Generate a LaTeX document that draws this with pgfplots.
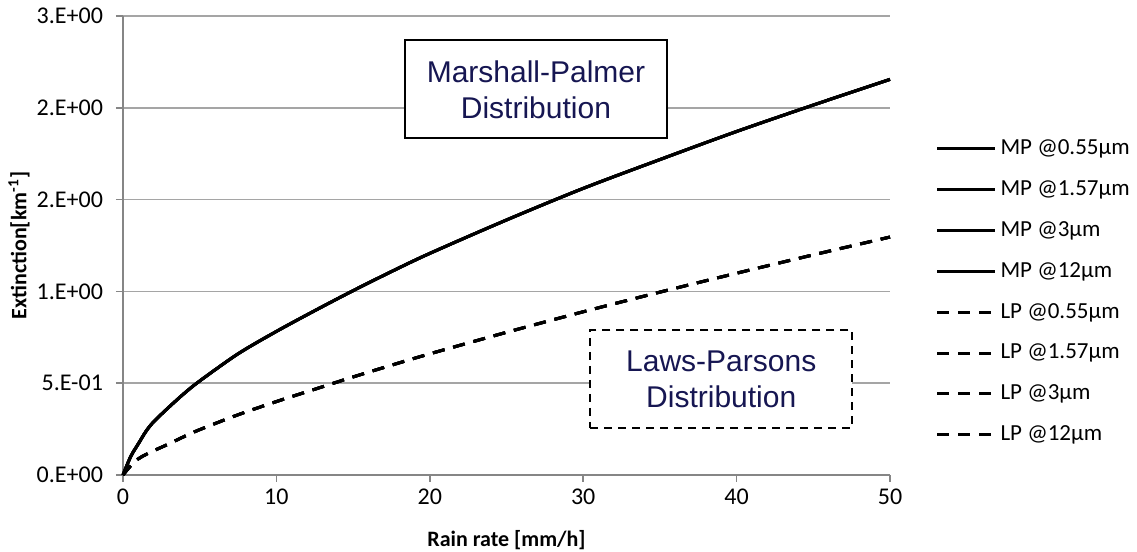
\documentclass[border=0pt]{standalone}
\usepackage{pgfplots}
\pgfplotsset{compat=1.18}
\usepackage{pgfplotstable}
\usepackage{fontspec}
\setmainfont{Carlito}
\newfontfamily\arialfont{Liberation Sans}

\definecolor{axgray}{RGB}{134,134,134}
\definecolor{gridgray}{RGB}{165,165,165}
\definecolor{boxnavy}{RGB}{22,22,82}

% extinction vs rain rate
\pgfplotstableread{
x     mp     lp
0     0.000  0.000
0.5   0.100  0.050
1     0.170  0.088
1.5   0.238  0.112
2     0.290  0.132
3     0.370  0.170
4     0.445  0.210
5     0.512  0.247
7.5   0.660  0.328
10    0.782  0.400
12.5  0.895  0.467
15    1.004  0.534
17.5  1.108  0.598
20    1.207  0.660
25    1.389  0.777
30    1.561  0.889
35    1.718  0.996
40    1.871  1.099
45    2.015  1.199
50    2.155  1.296
}\rain

\begin{document}
\begin{tikzpicture}
\path[use as bounding box] (-61.5pt,-38.5pt) rectangle (507pt,237.5pt);
\begin{axis}[
  anchor=south west, at={(0,0)},
  width=383.5pt, height=229.5pt, scale only axis,
  xmin=0, xmax=50, ymin=0, ymax=2.5,
  xtick={0,10,...,50},
  ytick={0,0.5,1,1.5,2,2.5},
  yticklabels={0.E+00,5.E-01,1.E+00,2.E+00,2.E+00,3.E+00},
  axis x line*=bottom, axis y line*=left,
  axis line style={axgray, line width=0.8pt, -},
  tick align=outside, major tick length=3.5pt,
  tick style={axgray, line width=0.8pt},
  ymajorgrids, grid style={gridgray, line width=0.8pt},
  ticklabel style={font=\fontsize{12}{14}\selectfont},
  yticklabel style={xshift=-3pt},
  /pgf/number format/assume math mode=true,
  xlabel={\textbf{Rain rate [mm/h]}},
  ylabel={\textbf{Extinction[km\textsuperscript{-1}]}},
  label style={font=\fontsize{11}{13}\selectfont},
  xlabel style={at={(axis description cs:0.5,-0.1416)}, anchor=center},
  ylabel style={at={(axis description cs:-0.1356,0.5)}, anchor=center},
  legend style={at={(1.051,0.749)}, anchor=north west, draw=none, fill=none,
    font=\fontsize{11.5}{14}\selectfont, row sep=7.5pt},
  legend cell align=left,
  legend image code/.code={\draw[#1] (0pt,0pt) -- (29pt,0pt);},
  clip=false,
]
\addplot[black, line width=1.5pt, smooth] table[x=x,y=mp]{\rain};
\addlegendentry{MP @0.55µm}
\addplot[black, line width=1.5pt, smooth] table[x=x,y=mp]{\rain};
\addlegendentry{MP @1.57µm}
\addplot[black, line width=1.5pt, smooth] table[x=x,y=mp]{\rain};
\addlegendentry{MP @3µm}
\addplot[black, line width=1.5pt, smooth] table[x=x,y=mp]{\rain};
\addlegendentry{MP @12µm}
\addplot[black, line width=1.5pt, smooth, dash pattern=on 6pt off 4.5pt] table[x=x,y=lp]{\rain};
\addlegendentry{LP @0.55µm}
\addplot[black, line width=1.5pt, smooth, dash pattern=on 6pt off 4.5pt] table[x=x,y=lp]{\rain};
\addlegendentry{LP @1.57µm}
\addplot[black, line width=1.5pt, smooth, dash pattern=on 6pt off 4.5pt] table[x=x,y=lp]{\rain};
\addlegendentry{LP @3µm}
\addplot[black, line width=1.5pt, smooth, dash pattern=on 6pt off 4.5pt] table[x=x,y=lp]{\rain};
\addlegendentry{LP @12µm}

\node[draw=black, line width=1pt, fill=white, align=center,
  minimum width=131pt, minimum height=49pt,
  font=\arialfont\fontsize{15}{18}\selectfont, text=boxnavy]
  at (axis cs:26.92,2.10) {Marshall-Palmer\\Distribution};
\node[draw=black, line width=0.8pt, dash pattern=on 4pt off 3pt, fill=white, align=center,
  minimum width=131pt, minimum height=49pt,
  font=\arialfont\fontsize{15}{18}\selectfont, text=boxnavy]
  at (axis cs:39.0,0.523) {Laws-Parsons\\Distribution};
\end{axis}
\end{tikzpicture}
\end{document}
